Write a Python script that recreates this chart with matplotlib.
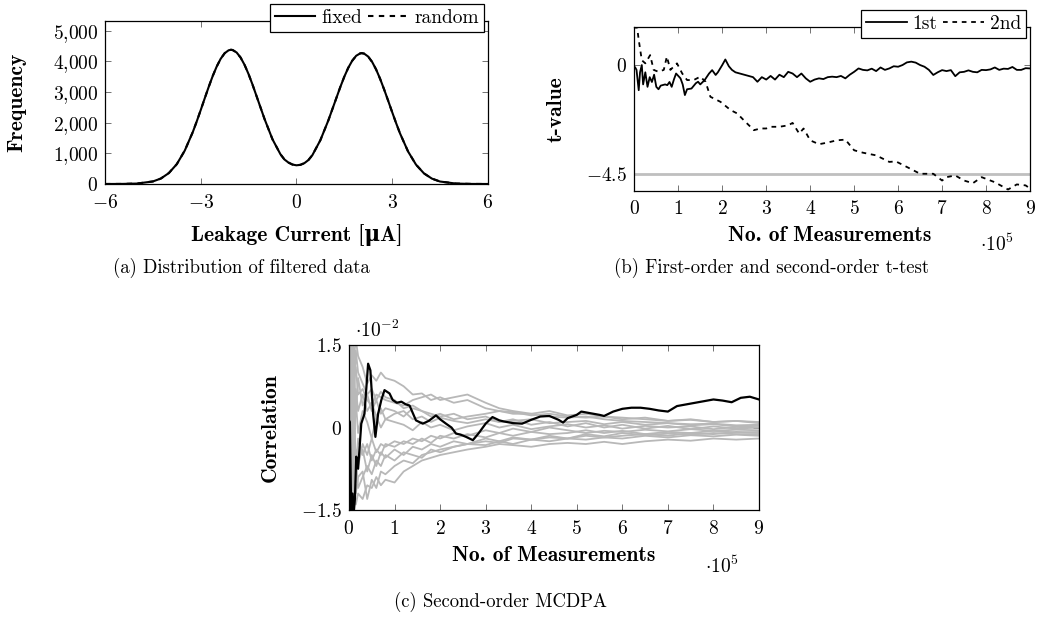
import numpy as np
import matplotlib
matplotlib.use("Agg")
import matplotlib.pyplot as plt

plt.rcParams['font.family'] = ['cmr10', 'DejaVu Serif']
plt.rcParams['mathtext.fontset'] = 'cm'
plt.rcParams['axes.unicode_minus'] = True

# (a) distribution of filtered data
current = [-6, -5.5, -5, -4.5, -4.25, -4, -3.75, -3.5, -3.25, -3.125, -3, -2.875, -2.75, -2.625,
           -2.5, -2.375, -2.25, -2.125, -2.05, -2.0, -1.875, -1.75, -1.625, -1.5, -1.375, -1.25,
           -1, -0.75, -0.5, -0.375, -0.25, -0.125, 0, 0.125, 0.25, 0.375, 0.5, 0.75, 1,
           1.25, 1.375, 1.5, 1.625, 1.75, 1.875, 2.0, 2.05, 2.125, 2.25, 2.375, 2.5, 2.625,
           2.75, 2.875, 3, 3.125, 3.25, 3.5, 3.75, 4, 4.25, 4.5, 5, 5.5, 6]
freq_fixed = [0, 2, 14, 83, 178, 356, 648, 1091, 1691, 2042, 2413, 2794, 3168, 3521,
              3831, 4085, 4267, 4364, 4380, 4372, 4292, 4127, 3887, 3586, 3241, 2869,
              2124, 1459, 970, 800, 700, 635, 610, 625, 680, 780, 940, 1426, 2071,
              2797, 3160, 3497, 3790, 4022, 4185, 4262, 4270, 4254, 4159, 3983, 3736, 3432,
              3087, 2724, 2353, 1991, 1648, 1063, 632, 346, 175, 81, 14, 2, 0]
freq_random = list(freq_fixed)  # indistinguishable from "fixed" in the figure

# (b) t-test, x in units of 1e5 measurements
x_1st = [0.02, 0.05, 0.1, 0.13, 0.17, 0.2, 0.25, 0.3, 0.35, 0.4, 0.45, 0.5, 0.55, 0.6, 0.7,
         0.75, 0.8, 0.85, 0.9, 0.95, 1.0, 1.05, 1.1, 1.15, 1.2, 1.3, 1.4, 1.45, 1.5, 1.6,
         1.7, 1.77, 1.85, 1.9, 2.0, 2.07, 2.15, 2.22, 2.3, 2.4, 2.5, 2.6, 2.7, 2.8, 2.9,
         3.0, 3.1, 3.2, 3.3, 3.4, 3.5, 3.6, 3.7, 3.8, 3.9, 4.0, 4.1, 4.2, 4.3, 4.4, 4.5,
         4.6, 4.7, 4.8, 4.9, 5.0, 5.1, 5.2, 5.3, 5.4, 5.5, 5.6, 5.7, 5.8, 5.9, 6.0, 6.1,
         6.2, 6.3, 6.4, 6.5, 6.6, 6.7, 6.8, 6.9, 7.0, 7.1, 7.2, 7.3, 7.4, 7.5, 7.6, 7.7,
         7.8, 7.9, 8.0, 8.1, 8.2, 8.3, 8.4, 8.5, 8.6, 8.7, 8.8, 8.9, 9.0]
t_1st = [-0.1, -0.2, -1.04, -0.3, 0.0, -0.8, -0.3, -0.9, -0.5, -0.7, -0.4, -0.9, -1.0, -0.85, -0.8,
         -0.83, -0.7, -0.9, -0.6, -0.35, -0.45, -0.55, -0.8, -1.24, -1.0, -0.97, -0.75, -0.69, -0.8, -0.62,
         -0.35, -0.21, -0.41, -0.3, 0.0, 0.23, -0.05, -0.2, -0.3, -0.35, -0.4, -0.45, -0.5, -0.69, -0.5,
         -0.6, -0.45, -0.6, -0.4, -0.5, -0.28, -0.35, -0.5, -0.35, -0.55, -0.69, -0.6, -0.55, -0.58, -0.5, -0.48,
         -0.5, -0.45, -0.55, -0.4, -0.28, -0.14, -0.2, -0.22, -0.15, -0.25, -0.1, -0.2, -0.14, -0.05, -0.07, 0.0,
         0.11, 0.14, 0.1, 0.0, -0.07, -0.2, -0.41, -0.3, -0.21, -0.25, -0.21, -0.46, -0.3, -0.28, -0.22, -0.28,
         -0.3, -0.2, -0.21, -0.18, -0.1, -0.2, -0.15, -0.16, -0.08, -0.2, -0.2, -0.13, -0.14]
x_2nd = [0.02, 0.06, 0.1, 0.17, 0.25, 0.36, 0.44, 0.55, 0.67, 0.74, 0.82, 0.97, 1.09, 1.2, 1.35,
         1.5, 1.62, 1.73, 1.96, 2.19, 2.34, 2.49, 2.72, 2.87, 3.0, 3.1, 3.3, 3.5, 3.6, 3.75,
         3.85, 4.0, 4.2, 4.4, 4.6, 4.8, 5.0, 5.2, 5.5, 5.8, 5.95, 6.2, 6.5, 6.8, 7.0, 7.1,
         7.3, 7.5, 7.7, 7.9, 8.2, 8.5, 8.7, 8.9, 9.0]
t_2nd = [1.52, 1.6, 1.04, 0.2, 0.07, 0.41, -0.2, -0.28, -0.2, 0.35, -0.2, 0.07, -0.35, -0.62, -0.62,
         -0.48, -0.69, -1.31, -1.52, -1.86, -2.0, -2.28, -2.69, -2.62, -2.62, -2.55, -2.55, -2.49, -2.39, -2.83,
         -2.62, -3.11, -3.27, -3.2, -3.11, -3.08, -3.52, -3.62, -3.73, -4.0, -3.98, -4.21, -4.49, -4.49, -4.77, -4.63,
         -4.56, -4.77, -4.88, -4.63, -4.84, -5.14, -4.93, -4.97, -5.1]
threshold = -4.5

# (c) MCDPA, x in 1e5, correlation in 1e-2
x_grid = [0, 0.05, 0.1, 0.15, 0.2, 0.3, 0.4, 0.5, 0.6, 0.7, 0.8, 1.0, 1.2, 1.4, 1.6, 1.8, 2.0,
          2.3, 2.6, 3.0, 3.3, 3.6, 4.0, 4.4, 4.8, 5.2, 5.6, 6.0, 6.5, 7.0, 7.5, 8.0, 8.5, 9.0]
wrong_keys = [
    [0.5, 1.6, 1.2, 1.6, 1.3, 1.1, 0.8, 0.95, 0.85, 1.0, 0.9, 0.85, 0.75, 0.6, 0.62, 0.5, 0.55,
     0.45, 0.5, 0.35, 0.3, 0.25, 0.25, 0.2, 0.18, 0.2, 0.15, 0.12, 0.1, 0.08, 0.06, 0.07, 0.04, 0.05],
    [-0.3, -1.5, -1.0, -1.4, -1.2, -1.3, -1.05, -1.1, -0.9, -1.05, -0.95, -1.0, -0.8, -0.7, -0.6, -0.55, -0.5,
     -0.45, -0.4, -0.35, -0.3, -0.32, -0.35, -0.3, -0.28, -0.3, -0.26, -0.3, -0.25, -0.22, -0.24, -0.2, -0.22, -0.2],
    [0.2, 1.5, 0.8, 1.1, 0.6, 0.7, 0.5, 0.4, 0.6, 0.55, 0.5, 0.45, 0.4, 0.5, 0.55, 0.6, 0.5,
     0.55, 0.6, 0.45, 0.35, 0.3, 0.25, 0.3, 0.22, 0.25, 0.2, 0.18, 0.15, 0.12, 0.15, 0.1, 0.12, 0.1],
    [-0.5, -1.5, -0.6, -1.2, -0.9, -0.8, -1.3, -0.95, -1.1, -0.8, -0.85, -0.7, -0.6, -0.65, -0.5, -0.45, -0.4,
     -0.35, -0.3, -0.25, -0.28, -0.2, -0.22, -0.18, -0.2, -0.15, -0.18, -0.15, -0.12, -0.15, -0.1, -0.12, -0.08, -0.1],
    [1.0, 0.3, 1.5, 0.2, 0.9, 0.4, 0.6, 0.3, 0.5, 0.25, 0.35, 0.3, 0.2, 0.35, 0.3, 0.25, 0.2,
     0.25, 0.15, 0.2, 0.1, 0.15, 0.05, 0.1, 0.02, 0.08, 0.0, 0.05, -0.02, 0.03, -0.03, 0.02, -0.02, 0.0],
    [-1.0, 0.5, -1.5, -0.4, -0.7, -0.3, -0.5, -0.2, -0.45, -0.3, -0.35, -0.25, -0.3, -0.2, -0.25, -0.15, -0.2,
     -0.1, -0.15, -0.05, -0.1, -0.02, -0.08, 0.0, -0.05, -0.1, -0.06, -0.08, -0.04, -0.07, -0.03, -0.06, -0.04, -0.05],
    [0.0, 1.2, 0.4, 1.4, 1.0, 0.8, 0.6, 0.7, 0.5, 0.65, 0.55, 0.5, 0.35, 0.4, 0.3, 0.2, 0.25,
     0.15, 0.2, 0.25, 0.3, 0.28, 0.22, 0.25, 0.2, 0.18, 0.2, 0.15, 0.18, 0.12, 0.14, 0.1, 0.12, 0.08],
    [0.3, -0.8, -1.5, -0.5, -1.1, -0.9, -0.7, -0.85, -0.6, -0.7, -0.5, -0.6, -0.45, -0.5, -0.55, -0.4, -0.45,
     -0.35, -0.3, -0.32, -0.25, -0.3, -0.22, -0.25, -0.2, -0.22, -0.18, -0.2, -0.15, -0.18, -0.14, -0.16, -0.13, -0.15],
    [-0.2, 0.8, -0.3, 0.5, -0.1, 0.3, 0.1, -0.2, 0.2, 0.0, 0.15, 0.1, 0.05, -0.05, 0.1, 0.0, 0.05,
     -0.05, 0.02, 0.08, 0.0, 0.05, -0.03, 0.02, 0.06, 0.0, 0.04, -0.02, 0.03, 0.0, 0.02, -0.03, 0.01, 0.0],
    [0.6, -0.4, 0.9, -0.8, -0.2, -0.5, -0.3, -0.6, -0.4, -0.5, -0.3, -0.35, -0.25, -0.3, -0.2, -0.28, -0.15,
     -0.2, -0.12, -0.18, -0.1, -0.15, -0.08, -0.12, -0.1, -0.05, -0.1, -0.06, -0.12, -0.08, -0.1, -0.06, -0.09, -0.08],
    [-0.6, 1.0, -0.8, 0.7, 0.3, 0.6, 0.3, 0.45, 0.2, 0.35, 0.15, 0.25, 0.3, 0.15, 0.2, 0.1, 0.18,
     0.12, 0.08, 0.15, 0.1, 0.12, 0.15, 0.08, 0.1, 0.12, 0.06, 0.1, 0.05, 0.08, 0.04, 0.06, 0.02, 0.03],
    [0.1, -1.2, 0.5, -1.0, -0.6, -0.4, -0.8, -0.5, -0.7, -0.45, -0.55, -0.4, -0.5, -0.35, -0.4, -0.3, -0.35,
     -0.25, -0.3, -0.2, -0.25, -0.18, -0.22, -0.15, -0.2, -0.12, -0.16, -0.1, -0.14, -0.11, -0.13, -0.1, -0.12, -0.12],
]
x_key = [0, 0.02, 0.05, 0.08, 0.1, 0.13, 0.16, 0.2, 0.27, 0.34, 0.42, 0.47, 0.53, 0.58, 0.64, 0.71,
         0.78, 0.89, 0.96, 1.05, 1.15, 1.25, 1.33, 1.47, 1.62, 1.75, 1.91, 2.0, 2.13, 2.25, 2.35,
         2.45, 2.57, 2.72, 2.85, 3.0, 3.15, 3.3, 3.4, 3.6, 3.8, 4.0, 4.2, 4.4, 4.6, 4.7, 4.8, 5.0,
         5.1, 5.3, 5.5, 5.6, 5.8, 6.0, 6.2, 6.4, 6.6, 6.8, 7.0, 7.2, 7.4, 7.6, 7.8, 8.0, 8.2, 8.4,
         8.6, 8.8, 9.0]
corr_key = [0.13, 0.1, -1.6, -1.2, -1.6, -1.3, -0.53, -0.75, 0.07, 0.25, 1.16, 1.04, 0.25, -0.17, 0.25, 0.5,
            0.68, 0.62, 0.5, 0.45, 0.47, 0.42, 0.4, 0.13, 0.07, 0.12, 0.22, 0.15, 0.07, 0.0, -0.11,
            -0.13, -0.17, -0.23, -0.1, 0.07, 0.19, 0.13, 0.11, 0.08, 0.07, 0.14, 0.2, 0.21, 0.14, 0.09, 0.17, 0.23,
            0.29, 0.26, 0.23, 0.21, 0.29, 0.34, 0.36, 0.36, 0.34, 0.31, 0.29, 0.39, 0.42, 0.45, 0.48, 0.51, 0.49, 0.46,
            0.54, 0.56, 0.51]

TICK_FS = 14
LEG_FS = 14
CAP_FS = 13.5
BOLD = dict(family=['cmb10', 'DejaVu Serif'], weight='bold', fontsize=15.5)


def style(ax):
    ax.tick_params(direction='in', top=True, right=True, length=4, width=0.7,
                   color='0.45', labelsize=TICK_FS)
    ax.tick_params(axis='x', pad=7)
    ax.tick_params(axis='y', pad=5)
    for s in ax.spines.values():
        s.set_linewidth(0.9)


def mt(v):
    return [r'$%s$' % s for s in v]


def legend(ax, anchor):
    leg = ax.legend(ncol=2, loc='upper right', bbox_to_anchor=anchor,
                    bbox_transform=fig.transFigure, fontsize=LEG_FS, frameon=True, fancybox=False,
                    edgecolor='black', framealpha=1, borderpad=0.25, handlelength=2.1,
                    handletextpad=0.3, columnspacing=0.3, borderaxespad=0)
    leg.get_frame().set_linewidth(0.9)


fig = plt.figure(figsize=(10.38, 6.17), dpi=100)

# ---- (a)
ax1 = fig.add_axes([0.1012, 0.7018, 0.3687, 0.2647])
ax1.plot(current, freq_fixed, color='black', lw=1.5, label='fixed')
ax1.plot(current, freq_random, color='black', lw=1.5, ls=(0, (2.6, 2.6)), label='random')
ax1.set_xlim(-6, 6)
ax1.set_ylim(0, 5330)
ax1.set_xticks([-6, -3, 0, 3, 6], mt(['-6', '-3', '0', '3', '6']))
ax1.set_yticks([0, 1000, 2000, 3000, 4000, 5000],
               mt(['0', '1{,}000', '2{,}000', '3{,}000', '4{,}000', '5{,}000']))
style(ax1)
ax1.set_xlabel('Leakage Current [μA]', va='center', **BOLD)
ax1.xaxis.set_label_coords(0.5, -0.312)
ax1.set_ylabel('Frequency', va='center', **BOLD)
ax1.yaxis.set_label_coords(-0.23, 0.5)
legend(ax1, (484 / 1038, 1 - 4 / 617))

# ---- (b)
ax2 = fig.add_axes([0.6111, 0.6909, 0.3812, 0.2653])
ax2.axhline(threshold, color='0.75', lw=2)
ax2.plot(x_1st, t_1st, color='black', lw=1.3, label='1st')
ax2.plot(x_2nd, t_2nd, color='black', lw=1.3, ls=(0, (2.6, 2.6)), label='2nd')
ax2.set_xlim(0, 9)
ax2.set_ylim(-5.19, 1.57)
ax2.set_xticks(range(10), mt([str(i) for i in range(10)]))
ax2.set_yticks([0, -4.5], mt(['0', '-4.5']))
style(ax2)
ax2.set_xlabel('No. of Measurements', va='center', **BOLD)
ax2.xaxis.set_label_coords(0.495, -0.271)
ax2.set_ylabel('t-value', va='center', **BOLD)
ax2.yaxis.set_label_coords(-0.197, 0.5)
ax2.text(0.917, -0.327, r'$\cdot 10^{5}$', transform=ax2.transAxes, ha='center', va='center',
         fontsize=TICK_FS)
legend(ax2, (1026 / 1038, 1 - 10 / 617))

# ---- (c)
ax3 = fig.add_axes([0.3362, 0.1734, 0.395, 0.2674])
for wk in wrong_keys:
    ax3.plot(x_grid, wk, color='0.72', lw=1.3)
ax3.plot(x_key, corr_key, color='black', lw=1.6)
ax3.set_xlim(0, 9)
ax3.set_ylim(-1.5, 1.5)
ax3.set_xticks(range(10), mt([str(i) for i in range(10)]))
ax3.set_yticks([-1.5, 0, 1.5], mt(['-1.5', '0', '1.5']))
style(ax3)
ax3.set_xlabel('No. of Measurements', va='center', **BOLD)
ax3.xaxis.set_label_coords(0.5, -0.275)
ax3.set_ylabel('Correlation', va='center', **BOLD)
ax3.yaxis.set_label_coords(-0.193, 0.5)
ax3.text(0.91, -0.34, r'$\cdot 10^{5}$', transform=ax3.transAxes, ha='center', va='center',
         fontsize=TICK_FS)
ax3.text(0.015, 1.09, r'$\cdot 10^{-2}$', transform=ax3.transAxes, ha='left', va='center',
         fontsize=TICK_FS)

# captions
fig.text(241 / 1038, 1 - 268 / 617, '(a) Distribution of filtered data', ha='center', va='center',
         fontsize=CAP_FS)
fig.text(772 / 1038, 1 - 268 / 617, '(b) First-order and second-order t-test', ha='center',
         va='center', fontsize=CAP_FS)
fig.text(501 / 1038, 1 - 602 / 617, '(c) Second-order MCDPA', ha='center', va='center',
         fontsize=CAP_FS)

fig.savefig('out.png', dpi=100)
